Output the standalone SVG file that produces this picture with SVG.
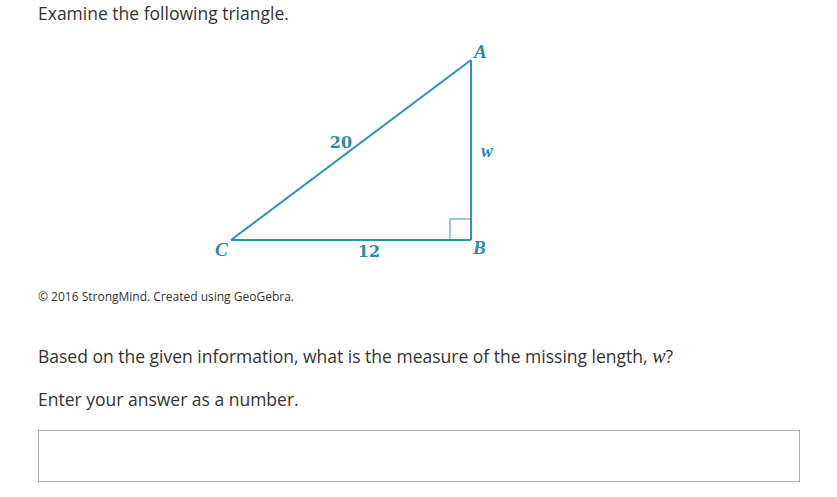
<svg xmlns="http://www.w3.org/2000/svg" width="837" height="497" viewBox="0 0 837 497">
<style>
.t{font-family:"Open Sans","Liberation Sans",sans-serif;fill:#333}
.lbl{font-family:"Liberation Serif","DejaVu Serif",serif;fill:#2a8aa8;font-style:italic;font-weight:bold}
.num{font-family:"DejaVu Serif","Liberation Serif",serif;fill:#2a8aa8;font-weight:bold;font-size:16px}
.edge{stroke:#2a93b6;stroke-width:2;fill:none}
</style>
<rect width="837" height="497" fill="#fff"/>
<text class="t" x="38" y="20" font-size="17.5">Examine the following triangle.</text>
<g id="connectors">
<line class="edge" x1="231" y1="240" x2="471" y2="240"/>
<line class="edge" x1="471" y1="240" x2="471" y2="60"/>
<line class="edge" x1="231" y1="240" x2="471" y2="60"/>
<polyline points="450,240 450,219 471,219" fill="none" stroke="#2a93b6" stroke-width="1"/>
</g>
<g id="A"><text class="lbl" x="474" y="58" font-size="19">A</text></g>
<g id="B"><text class="lbl" x="473" y="254" font-size="19">B</text></g>
<g id="C"><text class="lbl" x="215" y="256" font-size="19">C</text></g>
<text class="num" x="341" y="148" text-anchor="middle">20</text>
<text class="num" x="369" y="257" text-anchor="middle">12</text>
<text class="lbl" x="487" y="157" font-size="18" text-anchor="middle" font-weight="normal">w</text>
<text class="t" x="38" y="301" font-size="12">© 2016 StrongMind. Created using GeoGebra.</text>
<text class="t" x="38" y="363" font-size="17.5">Based on the given information, what is the measure of the missing length, <tspan font-family="Liberation Serif,serif" font-style="italic" font-size="20">w</tspan>?</text>
<text class="t" x="38" y="406" font-size="17.5">Enter your answer as a number.</text>
<rect x="38.5" y="430.5" width="761" height="51" fill="#fff" stroke="#aaa" stroke-width="1"/>
</svg>
